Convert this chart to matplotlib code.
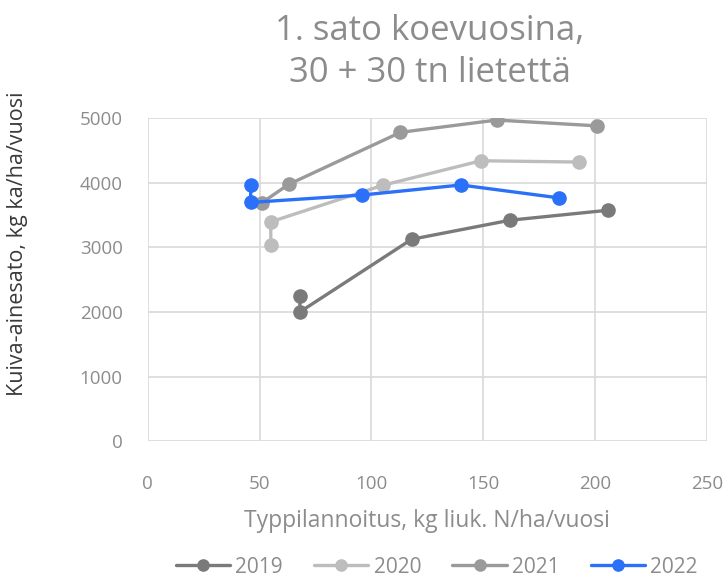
import matplotlib
matplotlib.use("Agg")
import matplotlib.pyplot as plt

plt.rcParams['font.family'] = ['Open Sans', 'DejaVu Sans']

years = ["2019", "2020", "2021", "2022"]
x2019 = [68, 68, 118, 162, 206]
y2019 = [2240, 2000, 3125, 3420, 3575]
x2020 = [55, 55, 105, 149, 193]
y2020 = [3035, 3395, 3960, 4340, 4320]
x2021 = [51, 63, 113, 156, 201]
y2021 = [3690, 3975, 4780, 4970, 4880]
x2022 = [46, 46, 96, 140, 184]
y2022 = [3970, 3695, 3810, 3965, 3765]
colors = ["#7a7a7a", "#bdbdbd", "#9a9a9a", "#2b70f8"]

title = "1. sato koevuosina,\n30 + 30 tn lietettä"
xlabel = "Typpilannoitus, kg liuk. N/ha/vuosi"
ylabel = "Kuiva-ainesato, kg ka/ha/vuosi"
xticks = [0, 50, 100, 150, 200, 250]
yticks = [0, 1000, 2000, 3000, 4000, 5000]

fig = plt.figure(figsize=(7.28, 5.79), dpi=100)
ax = fig.add_axes([0.203, 0.238, 0.768, 0.558])

series = [(x2019, y2019), (x2020, y2020), (x2021, y2021), (x2022, y2022)]
for (xs, ys), c, lab in zip(series, colors, years):
    ax.plot(xs, ys, color=c, lw=2.4, marker='o', ms=9.5, label=lab,
            solid_capstyle='round', zorder=3)

ax.set_xlim(0, 250)
ax.set_ylim(0, 5000)
ax.set_xticks(xticks)
ax.set_yticks(yticks)
ax.grid(True, color='#d9d9d9', lw=1.2)
ax.set_axisbelow(True)
for s in ax.spines.values():
    s.set_visible(False)
ax.tick_params(length=0, labelsize=13.5, colors='#8c8c8c')
ax.tick_params(axis='x', pad=24)
ax.tick_params(axis='y', pad=18)

ax.set_xlabel(xlabel, fontsize=16.5, color='#8c8c8c', labelpad=12)
ax.set_ylabel(ylabel, fontsize=15.5, color='#3a3a3a')
ax.yaxis.set_label_coords(-0.215, 0.61)
fig.text(0.59, 0.91, title, ha='center', va='center', fontsize=25,
         color='#8c8c8c', linespacing=1.3)

fig.legend(loc='lower center', bbox_to_anchor=(0.6, -0.03), ncol=4,
           frameon=False, fontsize=15, labelcolor='#8c8c8c',
           handlelength=2.6, columnspacing=1.5, handletextpad=0.25,
           markerscale=0.85)

fig.savefig("out.png", dpi=100)
